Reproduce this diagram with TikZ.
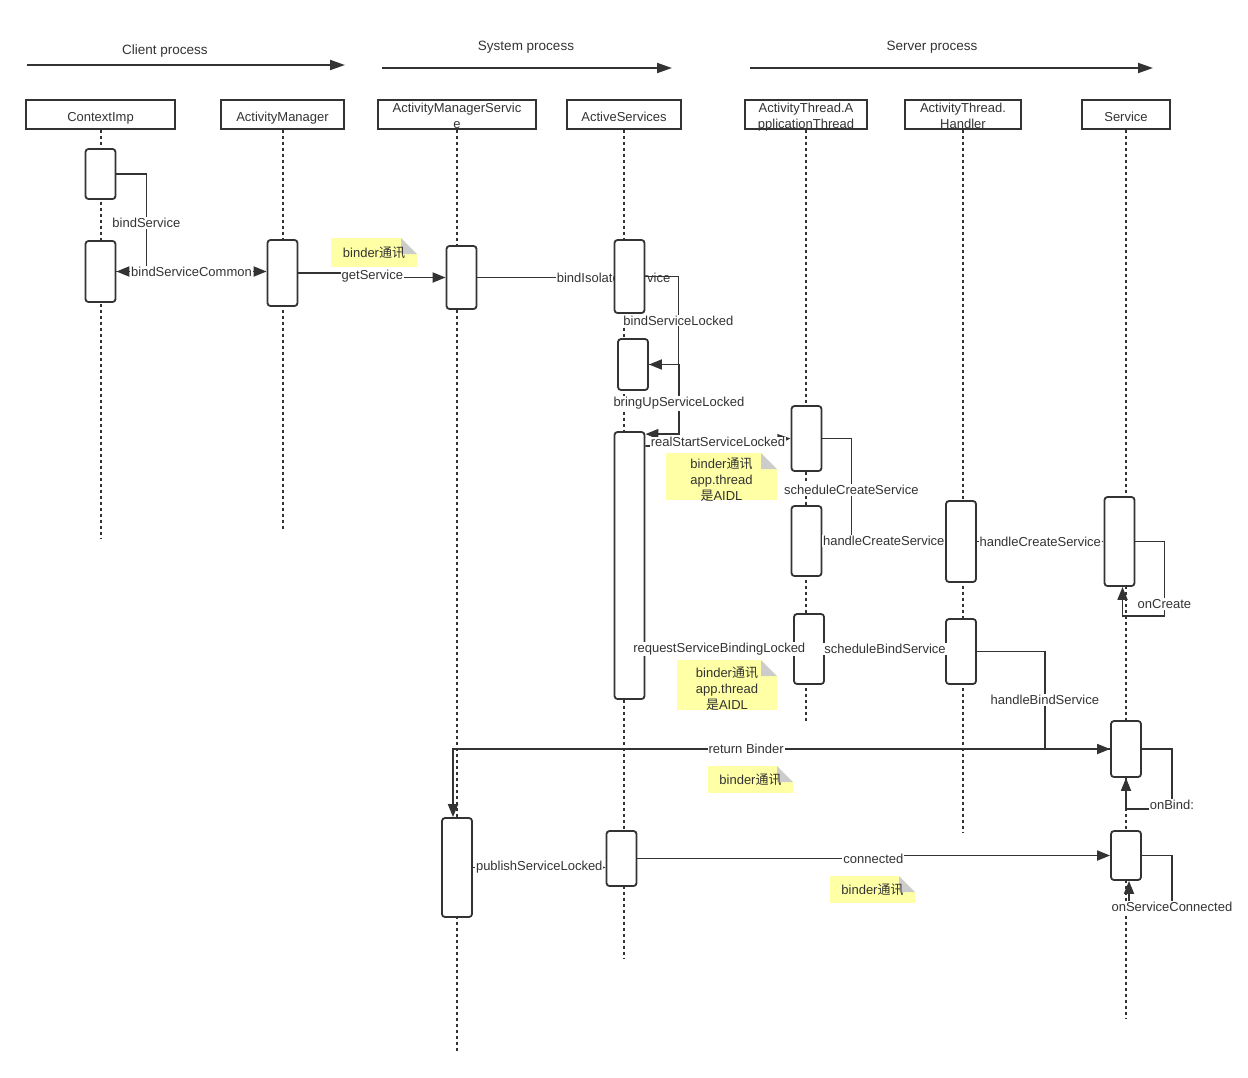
\documentclass[tikz,border=0pt]{standalone}
\usepackage{fontspec}
\setmainfont{Liberation Sans}
\newfontfamily\cjk{Noto Sans CJK SC}
\usetikzlibrary{arrows.meta,backgrounds}
\definecolor{SeqInk}{HTML}{333333}
\definecolor{SeqNote}{HTML}{FFFFA6}
\definecolor{SeqFold}{HTML}{CCCCCC}
\tikzset{
  proctitle/.style={font=\fontsize{13.5}{16}\selectfont, text=SeqInk},
  procarrow/.style={-{Triangle[length=15pt,width=10pt]}, line width=2pt, SeqInk},
  headbox/.style={draw=SeqInk, line width=2pt, fill=white, minimum height=29pt,
                  text height=17pt, text depth=3pt,
                  inner sep=0pt, align=center, font=\fontsize{13}{16}\selectfont, text=SeqInk},
  headbox2/.style={headbox, text height=29pt, text depth=0pt},
  lifeline/.style={SeqInk, line width=2pt, dash pattern=on 3pt off 3pt},
  actbox/.style={draw=SeqInk, line width=1.8pt, fill=white, rounded corners=3pt,
                 minimum width=30pt, inner sep=0pt},
  msg/.style={-{Triangle[length=13pt,width=10pt]}, line width=1.8pt, SeqInk},
  msglabel/.style={fill=white, inner sep=1pt, font=\fontsize{13}{16}\selectfont, text=SeqInk},
  notebox/.style={fill=SeqNote, inner sep=0pt, align=center,
                  font=\fontsize{13}{16}\selectfont, text=SeqInk,
                  path picture={
                    \fill[white] ([xshift=-16pt]path picture bounding box.north east)
                      -- (path picture bounding box.north east)
                      -- ([yshift=-16pt]path picture bounding box.north east) -- cycle;
                    \fill[SeqFold] ([xshift=-16pt]path picture bounding box.north east)
                      -- ([xshift=-16pt,yshift=-16pt]path picture bounding box.north east)
                      -- ([yshift=-16pt]path picture bounding box.north east) -- cycle;
                  }},
}

\begin{document}
\begin{tikzpicture}[x=1pt,y=-1pt]
  \useasboundingbox (0,0) rectangle (1248,1077);

  % process ranges
  \node[proctitle] (client) at (165,51) {Client process};
  \node[proctitle] (system) at (526,47) {System process};
  \node[proctitle] (server) at (932,47) {Server process};
  \draw[procarrow] (27,65) -- (345,65);
  \draw[procarrow] (382,68) -- (672,68);
  \draw[procarrow] (750,68) -- (1153,68);

  % participants
  \node[headbox, minimum width=149pt] (ctx) at (100.5,114) {ContextImp};
  \node[headbox, minimum width=123pt] (am) at (282.5,114) {ActivityManager};
  \node[headbox2, minimum width=158pt] (ams) at (457,114) {ActivityManagerServic\\e};
  \node[headbox, minimum width=114pt] (as) at (624,114) {ActiveServices};
  \node[headbox2, minimum width=122pt] (athr) at (806,114) {ActivityThread.A\\pplicationThread};
  \node[headbox2, minimum width=116pt] (hdl) at (963,114) {ActivityThread.\\Handler};
  \node[headbox, minimum width=88pt] (svc) at (1126,114) {Service};

  % activations
  \node[actbox, minimum height=50pt] (ctx1) at (100.5,174) {};
  \node[actbox, minimum height=61pt] (ctx2) at (100.5,271.5) {};
  \node[actbox, minimum height=66pt] (am1) at (282.5,273) {};
  \node[actbox, minimum height=63pt] (ams1) at (461.5,277.5) {};
  \node[actbox, minimum height=73pt] (as1) at (629.5,276.5) {};
  \node[actbox, minimum height=51pt] (as2) at (633,364.5) {};
  \node[actbox, minimum height=267pt] (as3) at (629.5,565.5) {};
  \node[actbox, minimum height=65pt] (at1) at (806.5,438.5) {};
  \node[actbox, minimum height=70pt] (at2) at (806.5,541) {};
  \node[actbox, minimum height=81pt] (h1) at (961,541.5) {};
  \node[actbox, minimum height=89pt] (s1) at (1119.5,541.5) {};
  \node[actbox, minimum height=70pt] (at3) at (809,649) {};
  \node[actbox, minimum height=65pt] (h2) at (961,651.5) {};
  \node[actbox, minimum height=56pt] (s2) at (1126,749) {};
  \node[actbox, minimum height=49pt] (s3) at (1126,855.5) {};
  \node[actbox, minimum height=99pt] (ams2) at (457,867.5) {};
  \node[actbox, minimum height=55pt] (as4) at (621.5,858.5) {};

  % notes
  \node[notebox, minimum width=86pt, minimum height=29pt] (note1) at (374,252.5) {binder{\cjk 通讯}};
  \node[notebox, minimum width=111pt, minimum height=47pt, text height=47pt, text depth=0pt]
    (note2) at (721.5,476.5) {binder{\cjk 通讯}\\app.thread\\{\cjk 是}AIDL};
  \node[notebox, minimum width=100pt, minimum height=50pt, text height=48pt, text depth=0pt]
    (note3) at (727,685) {binder{\cjk 通讯}\\app.thread\\{\cjk 是}AIDL};
  \node[notebox, minimum width=85pt, minimum height=27pt] (note4) at (750.5,779.5) {binder{\cjk 通讯}};
  \node[notebox, minimum width=85pt, minimum height=27pt] (note5) at (872.5,889.5) {binder{\cjk 通讯}};

  \begin{scope}[on background layer]
    \draw[lifeline] (ctx.south) -- ++(0,409);
    \draw[lifeline] (am.south) -- ++(0,399);
    \draw[lifeline] (ams.south) -- ++(0,921);
    \draw[lifeline] (as.south) -- ++(0,829);
    \draw[lifeline] (athr.south) -- ++(0,591);
    \draw[lifeline] (hdl.south) -- ++(0,703);
    \draw[lifeline] (svc.south) -- ++(0,889);
    \draw[msg] (ams1.east) -- (ams1.east -| as1.west) node[msglabel, pos=1] {bindIsolatedService};
  \end{scope}

  % calls
  \draw[msg] (ctx1.east) -- ++(30,0) |- node[msglabel, pos=0.25] {bindService} (ctx2.east);
  \draw[msg] (ctx2.east) -- (ctx2.east -| am1.west) node[msglabel, midway] {bindServiceCommon};
  \draw[msg] (am1.east) -- ++(74,0) node[msglabel, yshift=-3pt] {getService} |- (ams1.west);
  \draw[msg] (as1.east) -- ++(33,0) |- node[msglabel, pos=0.25] {bindServiceLocked} (as2.east);
  \draw[msg] (as2.east) -- ++(30,0) |- node[msglabel, pos=0.28] {bringUpServiceLocked}
    ([yshift=-3pt]as3.north east);
  \draw[msg] ([yshift=-15pt]as3.north east) -- (at1.west) node[msglabel, midway] {realStartServiceLocked};
  \draw[msg] (at1.east) -- ++(29,0) |- node[msglabel, pos=0.25] {scheduleCreateService} (at2.east);
  \draw[msg] (at2.east) -- (at2.east -| h1.west) node[msglabel, midway] {handleCreateService};
  \draw[msg] (h1.east) -- (s1.west) node[msglabel, midway] {handleCreateService};
  \draw[msg] (s1.east) -- ++(29,0) |- node[msglabel, pos=0.42] {onCreate}
    ([xshift=3pt,yshift=-29pt]s1.south) -- ([xshift=3pt]s1.south);
  \draw[msg] (at3.west -| as3.east) -- (at3.west) node[msglabel, midway] {requestServiceBindingLocked};
  \draw[msg] (at3.east) -- (at3.east -| h2.west) node[msglabel, midway] {scheduleBindService};
  \draw[msg] (h2.east) -- ++(68,0) |- node[msglabel, pos=0.25] {handleBindService} (s2.west);
  \draw[msg] (s2.west) -| node[msglabel, pos=0.277] {return Binder} ([xshift=-4pt]ams2.north);
  \draw[msg] (s2.east) -- ++(30,0) |- node[msglabel, pos=0.5, yshift=4pt] {onBind:}
    ([yshift=-31pt]s2.south) -- (s2.south);
  \draw[msg] (ams2.east) -- (ams2.east -| as4.west) node[msglabel, midway] {publishServiceLocked};
  \draw[msg] (as4.east) -- ++(236,0) node[msglabel] {connected} |- (s3.west);
  \draw[msg] (s3.east) -- ++(30,0) |- node[msglabel, pos=0.5] {onServiceConnected}
    ([xshift=3pt,yshift=-26pt]s3.south) -- ([xshift=3pt]s3.south);
\end{tikzpicture}
\end{document}
